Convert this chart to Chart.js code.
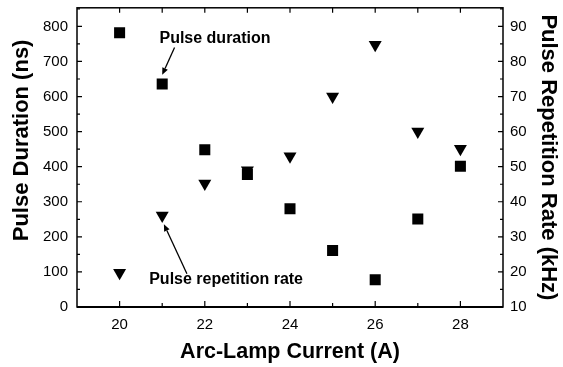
<!DOCTYPE html>
<html>
<head>
<meta charset="utf-8">
<script src="https://cdn.jsdelivr.net/npm/chart.js@4/dist/chart.umd.min.js"></script>
<style>
  html, body { margin: 0; padding: 0; background: #fff; }
</style>
</head>
<body>
<canvas id="chart" width="563" height="367"></canvas>
<script>
// data
const current = [20, 21, 22, 23, 24, 25, 26, 27, 28];
const pulseDuration = [782, 636, 448, 378, 280, 161, 78, 251, 401];   // ns, left axis
const repRate = [19.8, 36.1, 45.2, 49, 53, 70, 84.8, 60, 55.1];       // kHz, right axis

const xTicks = [20, 22, 24, 26, 28];
const leftTicks = [0, 100, 200, 300, 400, 500, 600, 700, 800];
const rightTicks = [10, 20, 30, 40, 50, 60, 70, 80, 90];

// annotation labels and arrows, in data units (x, left axis)
const noteText = ['Pulse duration', 'Pulse repetition rate'];
const noteX = [22.24, 22.5];
const noteY = [765, 79];
const arrowFrom = [[21.29, 740], [21.58, 95]];
const arrowTo = [[21.0, 662], [21.04, 236]];

const leftTitle = 'Pulse Duration (ns)';

const FONT = '"Liberation Sans", Arial, Helvetica, sans-serif';
Chart.defaults.font.family = FONT;
Chart.defaults.color = '#000';

// fixed box sizes so the plot area sits where the figure has it
const fixBox = (w, h) => s => {
  if (w) s.width = w;
  if (h) s.height = h;
  s.paddingTop = 0; s.paddingBottom = 0;
  s.paddingLeft = 0; s.paddingRight = 0;
};

const frame = {
  id: 'frame',
  beforeDatasetsDraw(chart) {
    const { ctx, chartArea: a, scales } = chart;
    ctx.save();
    ctx.strokeStyle = '#000';
    ctx.lineWidth = 1.5;
    ctx.strokeRect(a.left, a.top, a.right - a.left, a.bottom - a.top);
    ctx.lineWidth = 1.2;
    ctx.beginPath();
    // x ticks, every unit; bottom major on labelled values
    for (let v = Math.ceil(scales.x.min); v <= scales.x.max; v++) {
      const px = scales.x.getPixelForValue(v);
      if (v === scales.x.min || v === scales.x.max) continue;
      const len = xTicks.includes(v) ? 6 : 4;
      ctx.moveTo(px, a.bottom); ctx.lineTo(px, a.bottom - len);
      ctx.moveTo(px, a.top); ctx.lineTo(px, a.top + 5);
    }
    // left ticks every 50
    for (let v = 0; v <= scales.y.max; v += 50) {
      const py = scales.y.getPixelForValue(v);
      if (v === 0) continue;
      const len = leftTicks.includes(v) ? 5 : 3;
      ctx.moveTo(a.left, py); ctx.lineTo(a.left + len, py);
    }
    // right ticks every 5
    for (let v = scales.y1.min; v <= scales.y1.max; v += 5) {
      const py = scales.y1.getPixelForValue(v);
      if (v === scales.y1.min) continue;
      const len = rightTicks.includes(v) ? 5 : 3;
      ctx.moveTo(a.right, py); ctx.lineTo(a.right - len, py);
    }
    ctx.stroke();
    ctx.lineWidth = 2;
    ctx.beginPath();
    ctx.moveTo(a.left, a.bottom); ctx.lineTo(a.right, a.bottom);
    ctx.stroke();
    ctx.restore();
  }
};

const notes = {
  id: 'notes',
  afterDatasetsDraw(chart) {
    const { ctx, scales, chartArea: a } = chart;
    const x = scales.x, y = scales.y;
    ctx.save();
    ctx.fillStyle = '#000';
    ctx.strokeStyle = '#000';

    // left axis title sits a little above the middle in the figure
    ctx.save();
    ctx.font = 'bold 22px ' + FONT;
    ctx.textAlign = 'center';
    ctx.textBaseline = 'middle';
    ctx.translate(22, (a.top + a.bottom) / 2 - 17);
    ctx.rotate(-Math.PI / 2);
    ctx.fillText(leftTitle, 0, 0);
    ctx.restore();

    ctx.font = 'bold 16px ' + FONT;
    ctx.textAlign = 'center';
    ctx.textBaseline = 'middle';
    noteText.forEach((t, i) => {
      ctx.fillText(t, x.getPixelForValue(noteX[i]), y.getPixelForValue(noteY[i]));
    });
    arrowFrom.forEach((f, i) => {
      const x0 = x.getPixelForValue(f[0]), y0 = y.getPixelForValue(f[1]);
      const x1 = x.getPixelForValue(arrowTo[i][0]), y1 = y.getPixelForValue(arrowTo[i][1]);
      const ang = Math.atan2(y1 - y0, x1 - x0);
      const hl = 7, hw = 3;
      const bx = x1 - hl * Math.cos(ang), by = y1 - hl * Math.sin(ang);
      ctx.lineWidth = 1.3;
      ctx.beginPath();
      ctx.moveTo(x0, y0); ctx.lineTo(bx, by);
      ctx.stroke();
      ctx.beginPath();
      ctx.moveTo(x1, y1);
      ctx.lineTo(bx + hw * Math.sin(ang), by - hw * Math.cos(ang));
      ctx.lineTo(bx - hw * Math.sin(ang), by + hw * Math.cos(ang));
      ctx.closePath();
      ctx.fill();
    });
    ctx.restore();
  }
};

const ctx = document.getElementById('chart').getContext('2d');
new Chart(ctx, {
  type: 'scatter',
  data: {
    datasets: [
      {
        label: 'Pulse duration',
        data: current.map((c, i) => ({ x: c, y: pulseDuration[i] })),
        yAxisID: 'y',
        pointStyle: 'rect',
        pointRadius: 7.8,
        pointBorderWidth: 0,
        backgroundColor: '#000',
        borderColor: '#000'
      },
      {
        label: 'Pulse repetition rate',
        data: current.map((c, i) => ({ x: c, y: repRate[i] })),
        yAxisID: 'y1',
        pointStyle: 'triangle',
        rotation: 180,
        pointRadius: 7.5,
        pointBorderWidth: 0,
        backgroundColor: '#000',
        borderColor: '#000'
      }
    ]
  },
  options: {
    responsive: false,
    devicePixelRatio: 1,
    animation: false,
    layout: { padding: { top: 5, left: 0, right: 0, bottom: 0 } },
    scales: {
      x: {
        type: 'linear',
        position: 'bottom',
        min: 19,
        max: 29,
        afterBuildTicks: s => { s.ticks = xTicks.map(v => ({ value: v })); },
        afterFit: fixBox(0, 60),
        grid: { display: false, drawTicks: false },
        border: { display: false },
        ticks: { font: { size: 15 }, color: '#000', padding: 9, maxRotation: 0 },
        title: {
          display: true,
          text: 'Arc-Lamp Current (A)',
          font: { size: 21.5, weight: 'bold' },
          color: '#000',
          padding: { top: 0, bottom: 2 }
        }
      },
      y: {
        type: 'linear',
        position: 'left',
        min: 0,
        max: 853,
        afterBuildTicks: s => { s.ticks = leftTicks.map(v => ({ value: v })); },
        afterFit: fixBox(77, 0),
        grid: { display: false, drawTicks: false },
        border: { display: false },
        ticks: { font: { size: 15 }, color: '#000', padding: 9 },
        title: { display: false }
      },
      y1: {
        type: 'linear',
        position: 'right',
        min: 10,
        max: 95.3,
        afterBuildTicks: s => { s.ticks = rightTicks.map(v => ({ value: v })); },
        afterFit: fixBox(60, 0),
        grid: { display: false, drawTicks: false },
        border: { display: false },
        ticks: { font: { size: 15 }, color: '#000', padding: 7 },
        title: {
          display: true,
          text: 'Pulse Repetition Rate (kHz)',
          font: { size: 22, weight: 'bold' },
          color: '#000',
          padding: { top: 2, bottom: 0 }
        }
      }
    },
    plugins: {
      legend: { display: false },
      tooltip: { enabled: false }
    }
  },
  plugins: [frame, notes]
});
</script>
</body>
</html>
